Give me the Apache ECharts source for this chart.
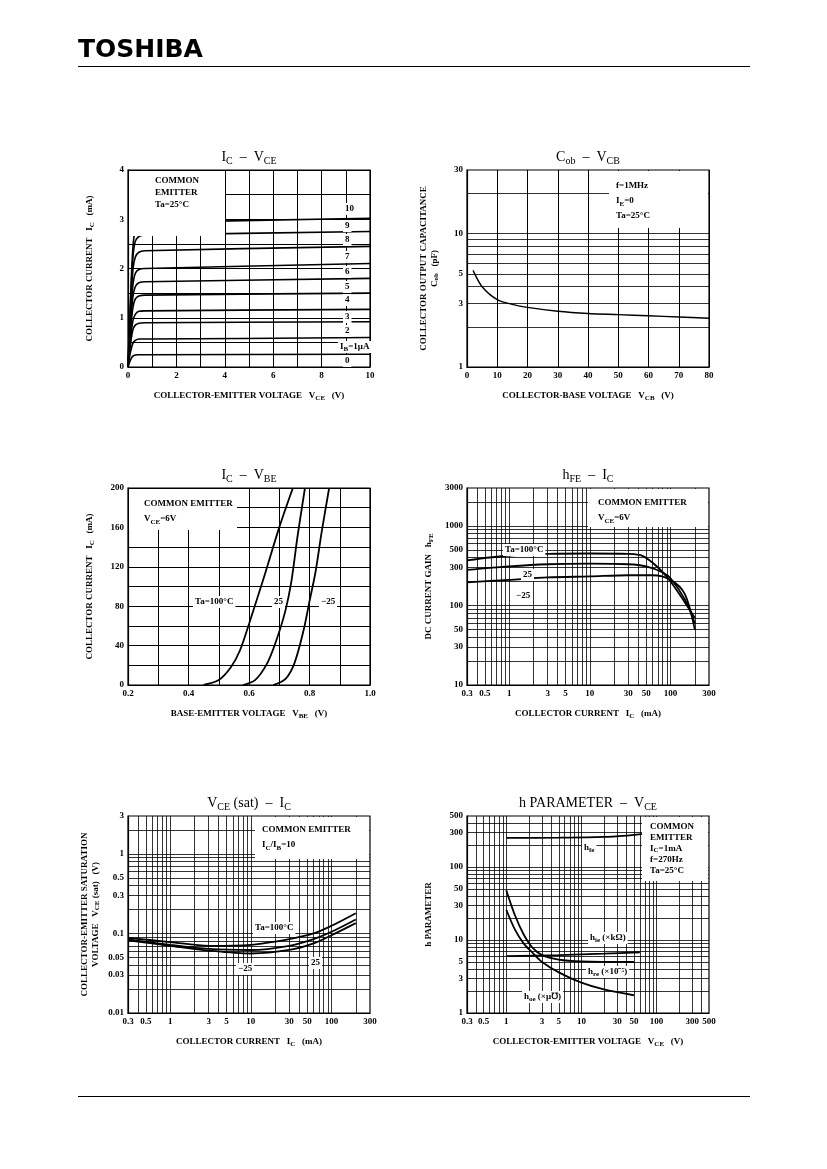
<!DOCTYPE html>
<html><head><meta charset="utf-8">
<script src="https://cdn.jsdelivr.net/npm/echarts@6/dist/echarts.min.js"></script>
<style>body{margin:0;background:#fff}#c{width:827px;height:1169px}</style>
</head><body><div id="c"></div>
<script>
// IC - VCE
var vce = [0, 0.1, 0.2, 0.3, 0.45, 0.7, 10]
var icLevels = [
  [0, 0.14, 0.22, 0.245, 0.25, 0.25, 0.26],
  [0, 0.3, 0.48, 0.54, 0.57, 0.57, 0.6],
  [0, 0.45, 0.75, 0.85, 0.89, 0.9, 0.92],
  [0, 0.55, 0.93, 1.07, 1.13, 1.14, 1.17],
  [0, 0.7, 1.2, 1.38, 1.44, 1.46, 1.5],
  [0, 0.82, 1.42, 1.63, 1.71, 1.73, 1.8],
  [0, 0.95, 1.65, 1.9, 1.98, 2.0, 2.1],
  [0, 1.1, 1.95, 2.23, 2.33, 2.36, 2.45],
  [0, 1.25, 2.2, 2.55, 2.65, 2.68, 2.75],
  [0, 1.35, 2.4, 2.8, 2.9, 2.93, 3.02]
]
// Cob - VCB
var vcb = [2, 5, 10, 15, 20, 30, 40, 50, 60, 70, 80]
var cob = [5.3, 4.0, 3.2, 2.95, 2.8, 2.62, 2.52, 2.47, 2.42, 2.37, 2.32]
// IC - VBE
var vbe100 = [[0.45, 0], [0.5, 5], [0.54, 18], [0.57, 35], [0.6, 62], [0.65, 110], [0.7, 160], [0.745, 200]]
var vbe25 = [[0.58, 0], [0.62, 5], [0.66, 22], [0.69, 45], [0.72, 75], [0.74, 105], [0.76, 150], [0.785, 200]]
var vbeM25 = [[0.68, 0], [0.72, 6], [0.75, 22], [0.78, 55], [0.8, 85], [0.82, 115], [0.84, 155], [0.865, 200]]
// hFE - IC
var hfe100 = [[0.3, 370], [1, 425], [3, 445], [10, 450], [30, 445], [45, 420], [70, 300], [100, 200], [150, 110], [200, 70]]
var hfe25 = [[0.3, 280], [1, 310], [3, 330], [10, 335], [30, 330], [50, 310], [80, 260], [100, 220], [150, 120], [200, 60]]
var hfeM25 = [[0.3, 195], [1, 210], [3, 225], [10, 232], [30, 240], [60, 240], [100, 210], [150, 140], [200, 50]]
// VCE(sat) - IC
var sat100 = [[0.3, 0.088], [1, 0.078], [3, 0.07], [10, 0.072], [30, 0.085], [60, 0.1], [100, 0.125], [200, 0.18]]
var sat25 = [[0.3, 0.084], [1, 0.072], [3, 0.064], [10, 0.062], [30, 0.07], [60, 0.085], [100, 0.105], [200, 0.15]]
var satM25 = [[0.3, 0.082], [1, 0.07], [3, 0.061], [10, 0.056], [30, 0.062], [60, 0.075], [100, 0.095], [200, 0.135]]
// h parameter - VCE
var hfeP = [[1, 250], [5, 252], [20, 258], [40, 270], [70, 285]]
var hieP = [[1, 6], [5, 6.2], [20, 6.5], [60, 6.8]]
var hreP = [[1, 48], [1.3, 22], [1.7, 12], [2.2, 8], [3, 6.2], [5, 5.4], [10, 5.1], [50, 5]]
var hoeP = [[1, 26], [1.3, 14], [1.7, 9], [2.2, 6.8], [3, 5], [5, 3.6], [10, 2.6], [20, 2.1], [50, 1.75]]
// log axis tick labels
var icTicks = [0.3, 0.5, 1, 3, 5, 10, 30, 50, 100, 300]
var vceTicks = [0.3, 0.5, 1, 3, 5, 10, 30, 50, 100, 300, 500]
var cobTicks = [1, 3, 5, 10, 30]
var hfeTicks = [10, 30, 50, 100, 300, 500, 1000, 3000]
var satTicks = [0.01, 0.03, 0.05, 0.1, 0.3, 0.5, 1, 3]
var hTicks = [1, 3, 5, 10, 30, 50, 100, 300, 500]

var F = 'Liberation Serif'
var boxes = [
  {l: 128, t: 170}, {l: 467, t: 170},
  {l: 128, t: 488}, {l: 467, t: 488},
  {l: 128, t: 816}, {l: 467, t: 816}
]
var W = 242, H = 197
var line = {color: '#000', width: 1}
var lab = {color: '#000', fontFamily: F, fontSize: 9, fontWeight: 'bold'}

function valAxis(min, max, interval, labelEvery, gi, dec) {
  return {type: 'value', gridIndex: gi, min: min, max: max, interval: interval,
    axisLine: {lineStyle: {color: '#000', width: 1.2}}, axisTick: {show: false},
    splitLine: {lineStyle: line},
    axisLabel: Object.assign({margin: 4, formatter: function (v) {
      var k = Math.round((v - min) / interval)
      return k % labelEvery === 0 ? v.toFixed(dec || 0) : ''
    }}, lab)}
}
function logAxis(min, max, labels, gi) {
  return {type: 'log', logBase: 10, gridIndex: gi, min: min, max: max,
    axisLine: {lineStyle: {color: '#000', width: 1.2}}, axisTick: {show: false},
    splitLine: {show: false},
    axisLabel: Object.assign({margin: 4, customValues: labels, formatter: function (v) { return String(v) }}, lab)}
}
// 1..9 x decade grid values inside [min, max]
function logGrid(min, max) {
  var out = []
  for (var d = -3; d <= 4; d++) {
    for (var m = 1; m <= 9; m++) {
      var v = +(m * Math.pow(10, d)).toPrecision(3)
      if (v > min * 1.001 && v < max * 0.999) out.push(v)
    }
  }
  return out
}
function curve(data, xi, w) {
  return {type: 'line', xAxisIndex: xi, yAxisIndex: xi, data: data, smooth: 0.3, symbol: 'none',
    lineStyle: {color: '#000', width: w || 1.8}, z: 5}
}
function gridLines(xi, key, vals) {
  return {type: 'line', xAxisIndex: xi, yAxisIndex: xi, data: [], z: 1,
    markLine: {silent: true, symbol: 'none', animation: false, label: {show: false},
      lineStyle: {color: '#000', width: 0.8, type: 'solid'},
      data: vals.map(function (v) { var o = {}; o[key] = v; return o })}}
}

var series = []
icLevels.forEach(function (lv) {
  series.push(curve(vce.map(function (x, i) { return [x, lv[i]] }), 0, 1.6))
})
series.push(curve(vcb.map(function (x, i) { return [x, cob[i]] }), 1, 1.4))
series.push(curve(vbe100, 2), curve(vbe25, 2), curve(vbeM25, 2))
series.push(curve(hfe100, 3), curve(hfe25, 3), curve(hfeM25, 3))
series.push(curve(sat100, 4), curve(sat25, 4), curve(satM25, 4))
series.push(curve(hfeP, 5), curve(hieP, 5), curve(hreP, 5), curve(hoeP, 5))
series.push(gridLines(1, 'yAxis', logGrid(1, 30)))
series.push(gridLines(3, 'xAxis', logGrid(0.3, 300)), gridLines(3, 'yAxis', logGrid(10, 3000)))
series.push(gridLines(4, 'xAxis', logGrid(0.3, 300)), gridLines(4, 'yAxis', logGrid(0.01, 3)))
series.push(gridLines(5, 'xAxis', logGrid(0.3, 500)), gridLines(5, 'yAxis', logGrid(1, 500)))

var titles = ['I_C  –  V_CE', 'C_ob  –  V_CB', 'I_C  –  V_BE', 'h_FE  –  I_C', 'V_CE (sat)  –  I_C', 'h PARAMETER  –  V_CE']
var xNames = ['COLLECTOR-EMITTER VOLTAGE   V_CE   (V)', 'COLLECTOR-BASE VOLTAGE   V_CB   (V)',
  'BASE-EMITTER VOLTAGE   V_BE   (V)', 'COLLECTOR CURRENT   I_C   (mA)',
  'COLLECTOR CURRENT   I_C   (mA)', 'COLLECTOR-EMITTER VOLTAGE   V_CE   (V)']
var yNames = ['COLLECTOR CURRENT   I_C   (mA)', 'COLLECTOR OUTPUT CAPACITANCE\nC_ob   (pF)',
  'COLLECTOR CURRENT   I_C   (mA)', 'DC CURRENT GAIN   h_FE',
  'COLLECTOR-EMITTER SATURATION\nVOLTAGE   V_CE (sat)   (V)', 'h PARAMETER']

function rich(s) {
  return s.replace(/_([A-Za-z()]+)/g, '{s|$1}')
}
var richSt = {s: {fontFamily: F, fontSize: 7, fontWeight: 'bold', verticalAlign: 'bottom', padding: [6, 0, 0, 0]}}

var graphic = [
  {type: 'text', left: 78, top: 38, style: {text: 'TOSHIBA', font: '900 25px "DejaVu Sans"', fill: '#000'}},
  {type: 'rect', shape: {x: 78, y: 66, width: 672, height: 1}, style: {fill: '#000'}},
  {type: 'rect', shape: {x: 78, y: 1096, width: 672, height: 1}, style: {fill: '#000'}}
]
boxes.forEach(function (b, i) {
  graphic.push({type: 'text', x: b.l + W / 2, y: b.t - 22, style: {text: rich(titles[i]), align: 'center',
    fill: '#000', font: '14px "' + F + '"', rich: {s: {fontFamily: F, fontSize: 10, padding: [8, 0, 0, 0]}}}})
  graphic.push({type: 'text', x: b.l + W / 2, y: b.t + H + 22, style: {text: rich(xNames[i]), align: 'center',
    fill: '#000', font: 'bold 9px "' + F + '"', rich: richSt}})
  graphic.push({type: 'text', x: b.l - 38, y: b.t + H / 2, rotation: Math.PI / 2, style: {text: rich(yNames[i]),
    align: 'center', verticalAlign: 'middle', fill: '#000', font: 'bold 9px "' + F + '"', lineHeight: 11, rich: richSt}})
})
function note(x, y, text, opts) {
  graphic.push({type: 'text', x: x, y: y, z: 10, style: Object.assign({text: rich(text), fill: '#000',
    backgroundColor: '#fff', font: 'bold 9px "' + F + '"', lineHeight: 12, rich: richSt}, opts || {})})
}
function panel(x, y, w, h) {
  graphic.push({type: 'rect', z: 8, shape: {x: x, y: y, width: w, height: h}, style: {fill: '#fff'}})
}
panel(129, 171, 96, 65); note(155, 175, 'COMMON\nEMITTER\nTa=25°C', {backgroundColor: null})
var ibLabels = ['10', '9', '8', '7', '6', '5', '4', '3', '2', 'I_B=1μA', '0']
var ibY = [208, 225, 239, 256, 271, 286, 299, 316, 330, 346, 360]
ibLabels.forEach(function (t, k) { note(t.length > 2 ? 338 : 343, ibY[k] - 5, t, {padding: [0, 2]}) })
panel(609, 171, 99, 57); note(616, 178, 'f=1MHz\nI_E=0\nTa=25°C', {backgroundColor: null, lineHeight: 15})
panel(129, 489, 108, 41); note(144, 496, 'COMMON EMITTER\nV_CE=6V', {backgroundColor: null, lineHeight: 15})
note(193, 596, 'Ta=100°C', {padding: [0, 2]}); note(272, 596, '25', {padding: [0, 2]}); note(319, 596, '−25', {padding: [0, 2]})
panel(588, 489, 120, 38); note(598, 495, 'COMMON EMITTER\nV_CE=6V', {backgroundColor: null, lineHeight: 15})
note(503, 544, 'Ta=100°C', {padding: [0, 2]}); note(521, 569, '25', {padding: [0, 2]}); note(514, 590, '−25', {padding: [0, 2]})
panel(255, 817, 114, 42); note(262, 822, 'COMMON EMITTER\nI_C/I_B=10', {backgroundColor: null, lineHeight: 15})
note(253, 922, 'Ta=100°C', {padding: [0, 2]}); note(309, 957, '25', {padding: [0, 2]}); note(236, 963, '−25', {padding: [0, 2]})
panel(642, 817, 66, 64); note(650, 821, 'COMMON\nEMITTER\nI_C=1mA\nf=270Hz\nTa=25°C', {backgroundColor: null, lineHeight: 11})
note(582, 842, 'h_fe', {padding: [0, 2]}); note(588, 932, 'h_ie (×kΩ)', {padding: [0, 2]})
note(586, 966, 'h_re (×10⁻⁵)', {padding: [0, 2]}); note(522, 991, 'h_oe (×μ℧)', {padding: [0, 2]})

var option = {
  animation: false,
  grid: boxes.map(function (b) { return {left: b.l, top: b.t, width: W, height: H, show: true, borderColor: '#000', borderWidth: 1.2} }),
  xAxis: [
    valAxis(0, 10, 1, 2, 0),
    valAxis(0, 80, 10, 1, 1),
    valAxis(0.2, 1.0, 0.1, 2, 2, 1),
    logAxis(0.3, 300, icTicks, 3),
    logAxis(0.3, 300, icTicks, 4),
    logAxis(0.3, 500, vceTicks, 5)
  ],
  yAxis: [
    valAxis(0, 4, 0.5, 2, 0),
    logAxis(1, 30, cobTicks, 1),
    valAxis(0, 200, 20, 2, 2),
    logAxis(10, 3000, hfeTicks, 3),
    logAxis(0.01, 3, satTicks, 4),
    logAxis(1, 500, hTicks, 5)
  ],
  series: series,
  graphic: graphic
}
echarts.init(document.getElementById('c')).setOption(option)
</script></body></html>
